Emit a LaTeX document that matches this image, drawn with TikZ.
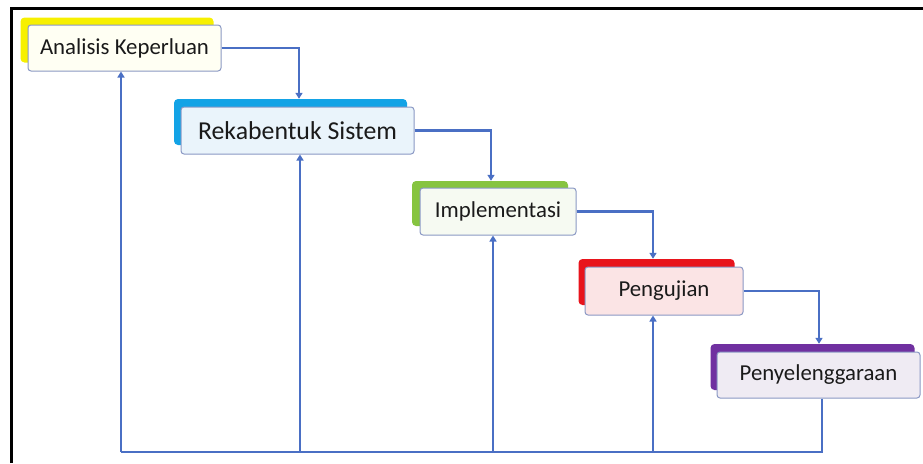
\documentclass[tikz,border=0pt]{standalone}
\usepackage{fontspec}
\setmainfont{Carlito}
\usetikzlibrary{arrows.meta}
\definecolor{flow}{HTML}{4A6FC4}
\definecolor{boxline}{HTML}{8A98C4}
\definecolor{txt}{HTML}{1A1A1A}
\definecolor{barA}{HTML}{F7F000}
\definecolor{barB}{HTML}{13A3E6}
\definecolor{barC}{HTML}{86C440}
\definecolor{barD}{HTML}{E8141C}
\definecolor{barE}{HTML}{7030A0}
\definecolor{fillA}{HTML}{FFFFF3}
\definecolor{fillB}{HTML}{EAF4FB}
\definecolor{fillC}{HTML}{F6FAF2}
\definecolor{fillD}{HTML}{FBE4E5}
\definecolor{fillE}{HTML}{EFEBF3}
\begin{document}
\begin{tikzpicture}[x=1pt,y=-1pt,
  front/.style={draw=boxline, line width=1pt, rounded corners=3pt, align=center, inner sep=0pt, text=txt, font=\fontsize{22.8}{26}\selectfont},
  back/.style={rounded corners=4pt, inner sep=0pt},
  flowline/.style={draw=flow, line width=2.7pt},
  arr/.style={flowline, -{Triangle[length=6pt,width=7pt]}},
  rarr/.style={flowline, {Triangle[length=6pt,width=7pt]}-}]
\useasboundingbox (0,0) rectangle (923,463);
\draw[line width=3pt] (11.5,463) -- (11.5,8.5) -- (923,8.5);
% back bars
\node[back, fill=barA, minimum width=193pt, minimum height=45pt] (abk) at (117,40) {};
\node[back, fill=barB, minimum width=233pt, minimum height=46pt] (bbk) at (290.5,122) {};
\node[back, fill=barC, minimum width=156pt, minimum height=45pt] (cbk) at (490,203.5) {};
\node[back, fill=barD, minimum width=156pt, minimum height=46pt] (dbk) at (656.5,282) {};
\node[back, fill=barE, minimum width=204pt, minimum height=46pt] (ebk) at (812.5,367) {};
% front boxes
\node[front, fill=fillA, minimum width=193pt, minimum height=46pt] (a) at (124.5,48) {Analisis Keperluan};
\node[front, fill=fillB, minimum width=233pt, minimum height=47pt, font=\fontsize{25.8}{29}\selectfont] (b) at (297.5,130.5) {Rekabentuk Sistem};
\node[front, fill=fillC, minimum width=156pt, minimum height=47pt] (c) at (498,211.5) {Implementasi};
\node[front, fill=fillD, minimum width=158pt, minimum height=48pt] (d) at (664,291) {Pengujian};
\node[front, fill=fillE, minimum width=203pt, minimum height=46pt] (e) at (818.5,375) {Penyelenggaraan};
% forward connectors
\draw[arr] (a.east) -| ([xshift=8.5pt]bbk.north);
\draw[arr] (b.east) -| ([xshift=1pt]cbk.north);
\draw[arr] (c.east) -| ([xshift=-3.5pt]dbk.north);
\draw[arr] (d.east) -| ([xshift=6.5pt]ebk.north);
% feedback
\coordinate (bl) at (121,452);
\draw[flowline] ([xshift=3.5pt]e.south) |- (bl);
\draw[rarr] (a.south -| bl) -- (bl);
\draw[rarr] ([xshift=2.5pt]b.south) |- (bl);
\draw[rarr] ([xshift=-5pt]c.south) |- (bl);
\draw[rarr] ([xshift=-11pt]d.south) |- (bl);
\end{tikzpicture}
\end{document}
